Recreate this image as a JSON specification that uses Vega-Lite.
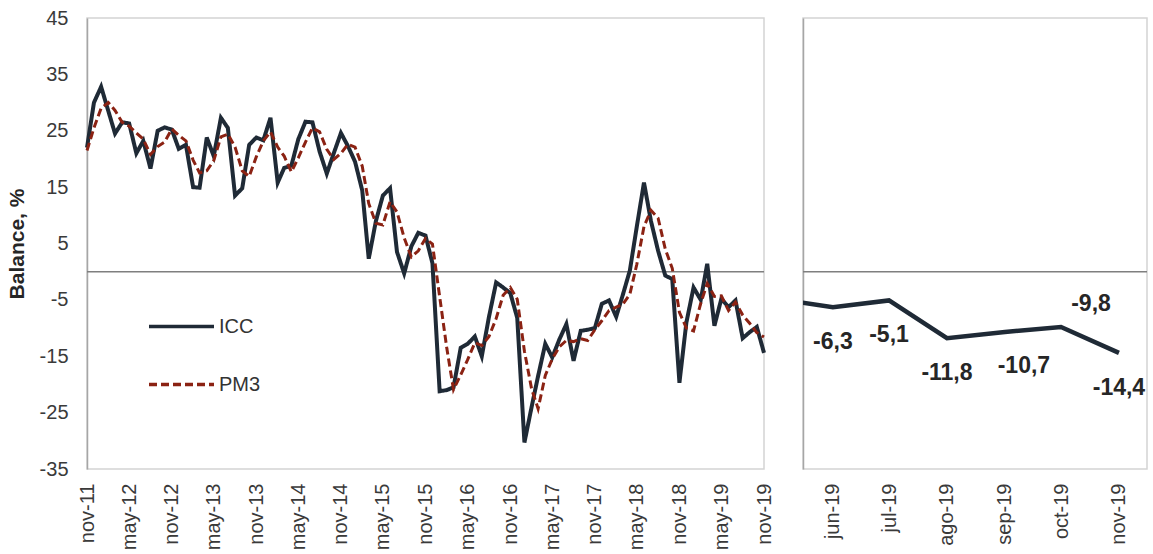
{
  "$schema": "https://vega.github.io/schema/vega-lite/v6.json",
  "background": "white",
  "padding": {"left": 5, "top": 7, "right": 5, "bottom": 0},
  "spacing": 26,
  "config": {
    "locale": {"number": {"decimal": ",", "thousands": ".", "grouping": [3], "currency": ["", " €"], "minus": "-"}},
    "view": {"stroke": "#d4d4d4", "strokeWidth": 1.5},
    "font": "Liberation Sans",
    "axis": {"labelFont": "Liberation Sans", "labelFontSize": 20, "labelColor": "#3a3a3a", "grid": false, "ticks": false, "domain": false}
  },
  "datasets": {
    "m": [
      {"date": "2011-11-01", "ICC": 22.0, "PM3": 21.5},
      {"date": "2011-12-01", "ICC": 30.0, "PM3": 25.5},
      {"date": "2012-01-01", "ICC": 32.8, "PM3": 29.0},
      {"date": "2012-02-01", "ICC": 28.5, "PM3": 30.0},
      {"date": "2012-03-01", "ICC": 24.5, "PM3": 28.6},
      {"date": "2012-04-01", "ICC": 26.5, "PM3": 26.5},
      {"date": "2012-05-01", "ICC": 26.3, "PM3": 25.8},
      {"date": "2012-06-01", "ICC": 21.0, "PM3": 24.6},
      {"date": "2012-07-01", "ICC": 23.2, "PM3": 23.5},
      {"date": "2012-08-01", "ICC": 18.3, "PM3": 20.8},
      {"date": "2012-09-01", "ICC": 25.0, "PM3": 22.2},
      {"date": "2012-10-01", "ICC": 25.6, "PM3": 23.0},
      {"date": "2012-11-01", "ICC": 25.2, "PM3": 25.3},
      {"date": "2012-12-01", "ICC": 21.8, "PM3": 24.2},
      {"date": "2013-01-01", "ICC": 22.5, "PM3": 23.2},
      {"date": "2013-02-01", "ICC": 15.0, "PM3": 19.8},
      {"date": "2013-03-01", "ICC": 14.9, "PM3": 17.5},
      {"date": "2013-04-01", "ICC": 23.8, "PM3": 17.9},
      {"date": "2013-05-01", "ICC": 20.5, "PM3": 19.7},
      {"date": "2013-06-01", "ICC": 27.3, "PM3": 23.9},
      {"date": "2013-07-01", "ICC": 25.5, "PM3": 24.4},
      {"date": "2013-08-01", "ICC": 13.5, "PM3": 22.1},
      {"date": "2013-09-01", "ICC": 14.8, "PM3": 17.9},
      {"date": "2013-10-01", "ICC": 22.5, "PM3": 16.9},
      {"date": "2013-11-01", "ICC": 23.8, "PM3": 20.4},
      {"date": "2013-12-01", "ICC": 23.3, "PM3": 23.2},
      {"date": "2014-01-01", "ICC": 27.3, "PM3": 24.8},
      {"date": "2014-02-01", "ICC": 15.8, "PM3": 22.1},
      {"date": "2014-03-01", "ICC": 18.4, "PM3": 20.5},
      {"date": "2014-04-01", "ICC": 18.8, "PM3": 17.7},
      {"date": "2014-05-01", "ICC": 23.5, "PM3": 20.2},
      {"date": "2014-06-01", "ICC": 26.6, "PM3": 23.0},
      {"date": "2014-07-01", "ICC": 26.5, "PM3": 25.5},
      {"date": "2014-08-01", "ICC": 21.3, "PM3": 24.8},
      {"date": "2014-09-01", "ICC": 17.4, "PM3": 21.7},
      {"date": "2014-10-01", "ICC": 21.0, "PM3": 19.9},
      {"date": "2014-11-01", "ICC": 24.6, "PM3": 21.0},
      {"date": "2014-12-01", "ICC": 22.3, "PM3": 22.6},
      {"date": "2015-01-01", "ICC": 19.5, "PM3": 22.1},
      {"date": "2015-02-01", "ICC": 14.4, "PM3": 18.7},
      {"date": "2015-03-01", "ICC": 2.3, "PM3": 12.1},
      {"date": "2015-04-01", "ICC": 9.0, "PM3": 8.6},
      {"date": "2015-05-01", "ICC": 13.5, "PM3": 8.3},
      {"date": "2015-06-01", "ICC": 14.8, "PM3": 12.4},
      {"date": "2015-07-01", "ICC": 3.5, "PM3": 10.6},
      {"date": "2015-08-01", "ICC": -0.3, "PM3": 6.0},
      {"date": "2015-09-01", "ICC": 4.5, "PM3": 2.6},
      {"date": "2015-10-01", "ICC": 6.9, "PM3": 3.7},
      {"date": "2015-11-01", "ICC": 6.4, "PM3": 5.9},
      {"date": "2015-12-01", "ICC": 1.5, "PM3": 4.9},
      {"date": "2016-01-01", "ICC": -21.2, "PM3": -4.4},
      {"date": "2016-02-01", "ICC": -21.0, "PM3": -13.6},
      {"date": "2016-03-01", "ICC": -20.5, "PM3": -20.9},
      {"date": "2016-04-01", "ICC": -13.5, "PM3": -18.3},
      {"date": "2016-05-01", "ICC": -12.8, "PM3": -15.6},
      {"date": "2016-06-01", "ICC": -11.5, "PM3": -12.6},
      {"date": "2016-07-01", "ICC": -15.0, "PM3": -13.1},
      {"date": "2016-08-01", "ICC": -8.0, "PM3": -11.5},
      {"date": "2016-09-01", "ICC": -1.9, "PM3": -8.3},
      {"date": "2016-10-01", "ICC": -2.8, "PM3": -4.2},
      {"date": "2016-11-01", "ICC": -3.8, "PM3": -2.8},
      {"date": "2016-12-01", "ICC": -8.2, "PM3": -4.9},
      {"date": "2017-01-01", "ICC": -30.3, "PM3": -14.1},
      {"date": "2017-02-01", "ICC": -24.0, "PM3": -20.8},
      {"date": "2017-03-01", "ICC": -18.5, "PM3": -24.3},
      {"date": "2017-04-01", "ICC": -12.8, "PM3": -18.4},
      {"date": "2017-05-01", "ICC": -15.2, "PM3": -15.5},
      {"date": "2017-06-01", "ICC": -12.0, "PM3": -13.3},
      {"date": "2017-07-01", "ICC": -9.3, "PM3": -12.2},
      {"date": "2017-08-01", "ICC": -15.8, "PM3": -12.4},
      {"date": "2017-09-01", "ICC": -10.5, "PM3": -11.9},
      {"date": "2017-10-01", "ICC": -10.3, "PM3": -12.2},
      {"date": "2017-11-01", "ICC": -10.0, "PM3": -10.3},
      {"date": "2017-12-01", "ICC": -5.7, "PM3": -8.7},
      {"date": "2018-01-01", "ICC": -5.1, "PM3": -6.9},
      {"date": "2018-02-01", "ICC": -8.0, "PM3": -6.3},
      {"date": "2018-03-01", "ICC": -4.2, "PM3": -5.8},
      {"date": "2018-04-01", "ICC": 0.2, "PM3": -4.0},
      {"date": "2018-05-01", "ICC": 8.0, "PM3": 1.3},
      {"date": "2018-06-01", "ICC": 15.8, "PM3": 8.0},
      {"date": "2018-07-01", "ICC": 9.0, "PM3": 10.9},
      {"date": "2018-08-01", "ICC": 3.7, "PM3": 9.5},
      {"date": "2018-09-01", "ICC": -0.7, "PM3": 4.0},
      {"date": "2018-10-01", "ICC": -1.3, "PM3": 0.6},
      {"date": "2018-11-01", "ICC": -19.7, "PM3": -7.2},
      {"date": "2018-12-01", "ICC": -9.0, "PM3": -10.0},
      {"date": "2019-01-01", "ICC": -2.8, "PM3": -10.5},
      {"date": "2019-02-01", "ICC": -5.0, "PM3": -5.6},
      {"date": "2019-03-01", "ICC": 1.4, "PM3": -2.1},
      {"date": "2019-04-01", "ICC": -9.6, "PM3": -4.4},
      {"date": "2019-05-01", "ICC": -4.8, "PM3": -4.3},
      {"date": "2019-06-01", "ICC": -6.3, "PM3": -6.9},
      {"date": "2019-07-01", "ICC": -5.1, "PM3": -5.4},
      {"date": "2019-08-01", "ICC": -11.8, "PM3": -7.7},
      {"date": "2019-09-01", "ICC": -10.7, "PM3": -9.2},
      {"date": "2019-10-01", "ICC": -9.8, "PM3": -10.8},
      {"date": "2019-11-01", "ICC": -14.4, "PM3": -11.6}
    ]
  },
  "hconcat": [
    {
      "width": 677,
      "height": 451,
      "layer": [
        {
          "data": {"values": [{}]},
          "mark": {"type": "rule", "color": "#7f7f7f", "strokeWidth": 1.5},
          "encoding": {"y": {"datum": 0, "type": "quantitative", "scale": {"domain": [-35, 45], "nice": false, "zero": false}}}
        },
        {
          "data": {"name": "m"},
          "mark": {"type": "line", "strokeWidth": 4},
          "encoding": {
            "x": {
              "field": "date", "type": "temporal",
              "scale": {"type": "utc", "domain": [{"year": 2011, "month": 11, "date": 1, "utc": true}, {"year": 2019, "month": 11, "date": 1, "utc": true}]},
              "axis": {
                "title": null, "labelAngle": -90, "labelPadding": 14, "labelFlush": false, "labelOverlap": false,
                "values": [
                  {"year": 2011, "month": 11, "date": 1, "utc": true}, {"year": 2012, "month": 5, "date": 1, "utc": true},
                  {"year": 2012, "month": 11, "date": 1, "utc": true}, {"year": 2013, "month": 5, "date": 1, "utc": true},
                  {"year": 2013, "month": 11, "date": 1, "utc": true}, {"year": 2014, "month": 5, "date": 1, "utc": true},
                  {"year": 2014, "month": 11, "date": 1, "utc": true}, {"year": 2015, "month": 5, "date": 1, "utc": true},
                  {"year": 2015, "month": 11, "date": 1, "utc": true}, {"year": 2016, "month": 5, "date": 1, "utc": true},
                  {"year": 2016, "month": 11, "date": 1, "utc": true}, {"year": 2017, "month": 5, "date": 1, "utc": true},
                  {"year": 2017, "month": 11, "date": 1, "utc": true}, {"year": 2018, "month": 5, "date": 1, "utc": true},
                  {"year": 2018, "month": 11, "date": 1, "utc": true}, {"year": 2019, "month": 5, "date": 1, "utc": true},
                  {"year": 2019, "month": 11, "date": 1, "utc": true}
                ],
                "labelExpr": "['ene','feb','mar','abr','may','jun','jul','ago','sep','oct','nov','dic'][utcmonth(datum.value)] + '-' + utcFormat(datum.value, '%y')"
              }
            },
            "y": {
              "field": "ICC", "type": "quantitative",
              "scale": {"domain": [-35, 45], "nice": false, "zero": false},
              "axis": {
                "title": "Balance, %", "titleFont": "Liberation Sans", "titleFontSize": 21, "titleFontWeight": "bold", "titleColor": "#262626", "titlePadding": 12,
                "values": [45, 35, 25, 15, 5, -5, -15, -25, -35], "labelPadding": 19,
                "domain": true, "domainColor": "#a6a6a6", "domainWidth": 1.5
              }
            },
            "color": {
              "datum": "ICC", "type": "nominal",
              "scale": {"domain": ["ICC", "PM3"], "range": ["#1f2a36", "#8b2213"]},
              "legend": {
                "title": null, "orient": "none", "legendX": 60, "legendY": 274, "padding": 0,
                "symbolType": "stroke", "symbolSize": 4225, "symbolStrokeWidth": 3.5,
                "labelFont": "Liberation Sans", "labelFontSize": 20, "labelColor": "#333333", "labelOffset": 3, "rowPadding": 13
              }
            },
            "strokeDash": {
              "datum": "ICC", "type": "nominal",
              "scale": {"domain": ["ICC", "PM3"], "range": [[1, 0], [8, 4]]},
              "legend": {"title": null}
            }
          }
        },
        {
          "data": {"name": "m"},
          "mark": {"type": "line", "strokeWidth": 3},
          "encoding": {
            "x": {"field": "date", "type": "temporal"},
            "y": {"field": "PM3", "type": "quantitative"},
            "color": {"datum": "PM3", "type": "nominal"},
            "strokeDash": {"datum": "PM3", "type": "nominal"}
          }
        }
      ]
    },
    {
      "width": 344,
      "height": 451,
      "layer": [
        {
          "data": {"values": [{}]},
          "mark": {"type": "rule", "color": "#7f7f7f", "strokeWidth": 1.5},
          "encoding": {"y": {"datum": 0, "type": "quantitative", "scale": {"domain": [-35, 45], "nice": false, "zero": false}}}
        },
        {
          "data": {"name": "m"},
          "transform": [{"filter": {"field": "date", "gte": {"year": 2019, "month": 4, "date": 15, "utc": true}}}],
          "mark": {"type": "line", "strokeWidth": 4.5, "color": "#1f2a36", "clip": true},
          "encoding": {
            "x": {
              "field": "date", "type": "temporal",
              "scale": {"type": "utc", "domain": [{"year": 2019, "month": 5, "date": 16, "utc": true}, {"year": 2019, "month": 11, "date": 16, "utc": true}]},
              "axis": {
                "title": null, "labelAngle": -90, "labelPadding": 14, "labelFlush": false, "labelOverlap": false,
                "values": [
                  {"year": 2019, "month": 6, "date": 1, "utc": true}, {"year": 2019, "month": 7, "date": 1, "utc": true},
                  {"year": 2019, "month": 8, "date": 1, "utc": true}, {"year": 2019, "month": 9, "date": 1, "utc": true},
                  {"year": 2019, "month": 10, "date": 1, "utc": true}, {"year": 2019, "month": 11, "date": 1, "utc": true}
                ],
                "labelExpr": "['ene','feb','mar','abr','may','jun','jul','ago','sep','oct','nov','dic'][utcmonth(datum.value)] + '-' + utcFormat(datum.value, '%y')"
              }
            },
            "y": {
              "field": "ICC", "type": "quantitative",
              "scale": {"domain": [-35, 45], "nice": false, "zero": false},
              "axis": {"title": null, "labels": false, "domain": true, "domainColor": "#a6a6a6", "domainWidth": 1.5}
            }
          }
        },
        {
          "data": {"name": "m"},
          "transform": [{"filter": {"field": "date", "oneOf": [
            {"year": 2019, "month": 6, "date": 1, "utc": true},
            {"year": 2019, "month": 7, "date": 1, "utc": true},
            {"year": 2019, "month": 8, "date": 1, "utc": true},
            {"year": 2019, "month": 11, "date": 1, "utc": true}
          ]}}],
          "mark": {"type": "text", "font": "Liberation Sans", "fontSize": 23, "fontWeight": "bold", "color": "#262626", "dy": 35},
          "encoding": {
            "x": {"field": "date", "type": "temporal"},
            "y": {"field": "ICC", "type": "quantitative"},
            "text": {"field": "ICC", "type": "quantitative", "format": ".1f"}
          }
        },
        {
          "data": {"name": "m"},
          "transform": [{"filter": {"field": "date", "equal": {"year": 2019, "month": 9, "date": 1, "utc": true}}}],
          "mark": {"type": "text", "font": "Liberation Sans", "fontSize": 23, "fontWeight": "bold", "color": "#262626", "dy": 34, "dx": 19},
          "encoding": {
            "x": {"field": "date", "type": "temporal"},
            "y": {"field": "ICC", "type": "quantitative"},
            "text": {"field": "ICC", "type": "quantitative", "format": ".1f"}
          }
        },
        {
          "data": {"name": "m"},
          "transform": [{"filter": {"field": "date", "equal": {"year": 2019, "month": 10, "date": 1, "utc": true}}}],
          "mark": {"type": "text", "font": "Liberation Sans", "fontSize": 23, "fontWeight": "bold", "color": "#262626", "dy": -23, "dx": 30},
          "encoding": {
            "x": {"field": "date", "type": "temporal"},
            "y": {"field": "ICC", "type": "quantitative"},
            "text": {"field": "ICC", "type": "quantitative", "format": ".1f"}
          }
        }
      ]
    }
  ]
}
